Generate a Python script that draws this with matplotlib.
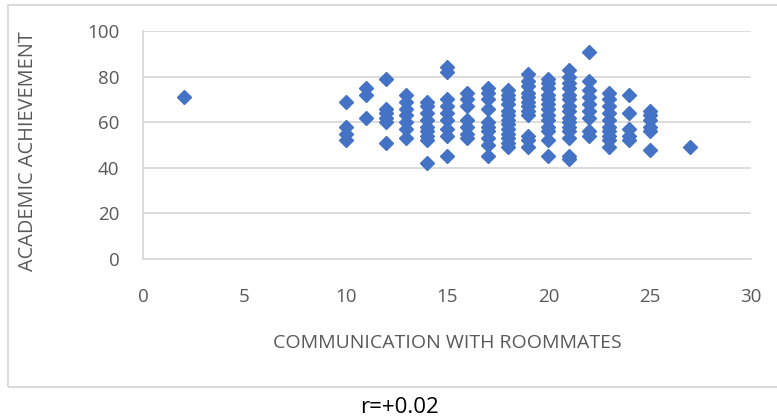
import matplotlib.pyplot as plt
from matplotlib.patches import Rectangle

# communication score (x) and academic achievement (y), one entry per student
comm = [2,
        10, 10, 10, 10,
        11, 11, 11,
        12, 12, 12, 12, 12, 12,
        13, 13, 13, 13, 13, 13, 13,
        14, 14, 14, 14, 14, 14, 14, 14, 14,
        15, 15, 15, 15, 15, 15, 15, 15, 15,
        16, 16, 16, 16, 16, 16, 16,
        17, 17, 17, 17, 17, 17, 17, 17, 17, 17,
        18, 18, 18, 18, 18, 18, 18, 18, 18, 18, 18, 18, 18,
        19, 19, 19, 19, 19, 19, 19, 19, 19, 19, 19, 19,
        20, 20, 20, 20, 20, 20, 20, 20, 20, 20, 20, 20, 20,
        21, 21, 21, 21, 21, 21, 21, 21, 21, 21, 21, 21, 21, 21, 21,
        22, 22, 22, 22, 22, 22, 22, 22, 22,
        23, 23, 23, 23, 23, 23, 23, 23, 23, 23,
        24, 24, 24, 24, 24,
        25, 25, 25, 25, 25, 25,
        27]
achievement = [71,
               69, 58, 55, 52,
               75, 72, 62,
               79, 66, 64, 62, 60, 51,
               72, 69, 66, 63, 60, 57, 53,
               69, 67, 64, 61, 58, 56, 54, 52, 42,
               84, 82, 70, 67, 64, 61, 57, 54, 45,
               73, 70, 67, 61, 58, 55, 53,
               75, 73, 70, 66, 60, 58, 56, 53, 50, 45,
               74, 72, 70, 68, 65, 63, 61, 59, 57, 55, 53, 51, 49,
               81, 78, 76, 73, 71, 69, 67, 65, 63, 54, 52, 49,
               79, 77, 75, 72, 70, 68, 66, 63, 61, 58, 56, 52, 45,
               83, 80, 77, 75, 72, 70, 67, 65, 62, 60, 58, 56, 53, 45, 44,
               91, 78, 74, 71, 68, 65, 62, 56, 54,
               73, 70, 67, 64, 61, 58, 56, 54, 52, 49,
               72, 64, 57, 54, 52,
               65, 63, 61, 58, 56, 48,
               49]

x_ticks = [0, 5, 10, 15, 20, 25, 30]
y_ticks = [0, 20, 40, 60, 80, 100]

GRID = "#D9D9D9"
TEXT = "#595959"
BLUE = "#4472C4"

plt.rcParams['font.family'] = ['Open Sans', 'DejaVu Sans']

fig = plt.figure(figsize=(7.77, 4.19), dpi=100)
ax = fig.add_axes([143/777, 1 - 259/419, (751 - 143)/777, (259 - 31)/419])

# outer chart frame
fig.patches.append(Rectangle((8/777, 1 - 387/419), 1.0, (387 - 5)/419,
                             transform=fig.transFigure, fill=False,
                             edgecolor=GRID, linewidth=1.4))

ax.plot(comm, achievement, linestyle="none", marker="D", markersize=7.6,
        color=BLUE, markeredgecolor=BLUE, zorder=3)

ax.set_xlim(0, 30)
ax.set_ylim(0, 100)
ax.set_xticks(x_ticks)
ax.set_yticks(y_ticks)
ax.grid(axis="y", color=GRID, linewidth=1.3)
ax.set_axisbelow(True)
for side in ["top", "right"]:
    ax.spines[side].set_visible(False)
for side in ["left", "bottom"]:
    ax.spines[side].set_color(GRID)
    ax.spines[side].set_linewidth(1.3)
ax.tick_params(length=0, colors=TEXT, labelsize=13.5)
ax.tick_params(axis="x", pad=21)
ax.tick_params(axis="y", pad=17)

ax.set_xlabel("COMMUNICATION WITH ROOMMATES", color=TEXT, fontsize=14, va="center")
ax.set_ylabel("ACADEMIC ACHIEVEMENT", color=TEXT, fontsize=14.3, va="center")
ax.xaxis.set_label_coords(0.5, -(343 - 259) / 228)
ax.yaxis.set_label_coords((28 - 143) / 608, 0.475)

fig.text(399/777, 1 - 407/419, "r=+0.02", ha="center", va="center",
         fontsize=16, color="black")

fig.savefig("out.png", dpi=100)
